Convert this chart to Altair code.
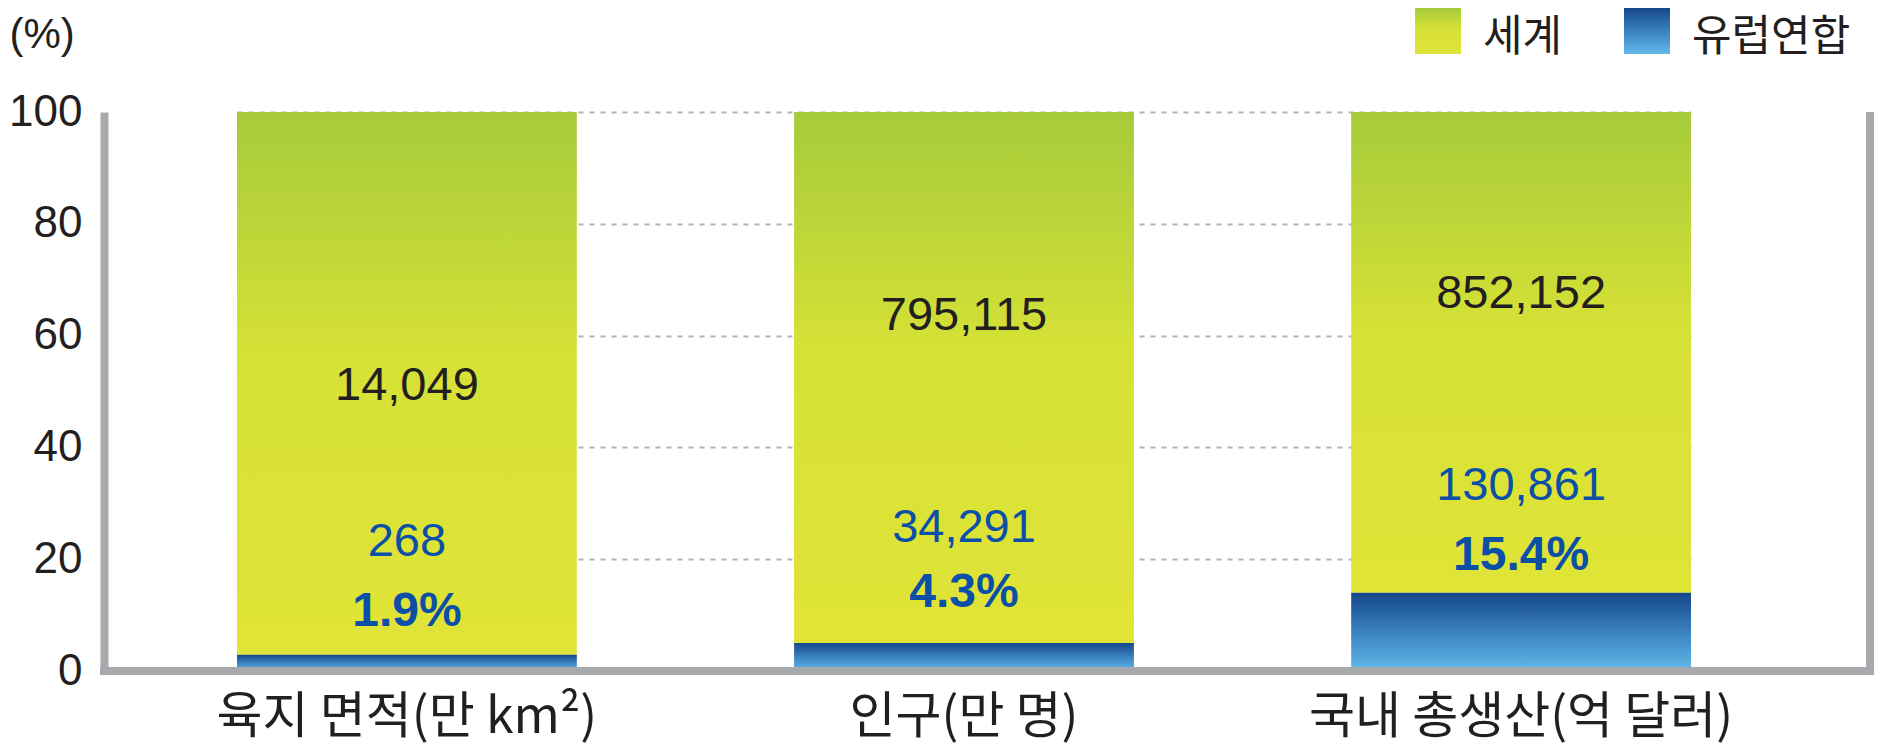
import altair as alt
import pandas as pd

# ---- data ----
categories = ["육지 면적(만 km²)", "인구(만 명)", "국내 총생산(억 달러)"]
world_total = [100, 100, 100]
eu_bar_top = [2.9, 5.0, 14.0]          # drawn height of the EU segment (%)
world_value_labels = ["14,049", "795,115", "852,152"]
eu_value_labels = ["268", "34,291", "130,861"]
eu_share_labels = ["1.9%", "4.3%", "15.4%"]
y_ticks = [0, 20, 40, 60, 80, 100]
legend_labels = ["세계", "유럽연합"]

# vertical anchor of each in-bar label, in axis units (%)
world_label_at = [51.0, 63.5, 67.4]
eu_label_at = [23.1, 25.6, 33.1]
share_label_at = [10.6, 14.0, 20.6]

# ---- styles ----
DARK = "#231f20"
BLUE_TXT = "#0b4fa6"
GRAY = "#a7a9ac"
NUM_FONT = "Liberation Sans"
KR_FONT = "Noto Sans CJK KR"
W, H = 1766, 559

green = alt.Gradient(
    gradient="linear", x1=0, x2=0, y1=0, y2=1,
    stops=[alt.GradientStop(color="#a6cb3a", offset=0),
           alt.GradientStop(color="#d6e136", offset=0.45),
           alt.GradientStop(color="#e0e437", offset=1)])
blue = alt.Gradient(
    gradient="linear", x1=0, x2=0, y1=0, y2=1,
    stops=[alt.GradientStop(color="#154789", offset=0),
           alt.GradientStop(color="#3a82c0", offset=0.5),
           alt.GradientStop(color="#63b9ea", offset=1)])

df = pd.DataFrame({
    "cat": categories,
    "total": world_total,
    "eu": eu_bar_top,
    "wlab": world_value_labels,
    "elab": eu_value_labels,
    "slab": eu_share_labels,
    "wy": world_label_at,
    "ey": eu_label_at,
    "sy": share_label_at,
})

xscale = alt.Scale(range=[133, 1587], paddingInner=0.39, paddingOuter=0)
yscale = alt.Scale(domain=[0, 100], nice=False)

x_axis = alt.Axis(title=None, labelAngle=0, labelFont=KR_FONT,
                  labelFontSize=50, labelColor=DARK, labelPadding=61,
                  labelBaseline="alphabetic", labelLimit=1000,
                  ticks=False, tickSize=0, domain=False)
y_axis = alt.Axis(values=y_ticks, grid=True, gridColor="#b3b3b3",
                  gridDash=[5, 6], gridWidth=2, domain=True,
                  domainColor=GRAY, domainWidth=8, ticks=False,
                  tickSize=0, labelFont=NUM_FONT, labelFontSize=44,
                  labelColor=DARK, labelPadding=22,
                  title="(%)", titleAngle=0, titleAlign="left",
                  titleBaseline="middle", titleX=-95, titleY=-78,
                  titleFont=NUM_FONT, titleFontSize=42,
                  titleFontWeight="normal", titleColor=DARK)

X = alt.X("cat:N", sort=categories, scale=xscale, axis=x_axis)


def Y(field):
    return alt.Y(field, scale=yscale, axis=y_axis)


base = alt.Chart(df)

world_bars = base.mark_bar(color=green).encode(x=X, y=Y("total:Q"), y2="eu:Q")
eu_bars = base.mark_bar(color=blue).encode(x=X, y=Y("eu:Q"))

world_text = base.mark_text(font=NUM_FONT, fontSize=47, color=DARK,
                            baseline="middle").encode(
    x=X, y=Y("wy:Q"), text="wlab:N")
eu_text = base.mark_text(font=NUM_FONT, fontSize=47, color=BLUE_TXT,
                         baseline="middle").encode(
    x=X, y=Y("ey:Q"), text="elab:N")
share_text = base.mark_text(font=NUM_FONT, fontSize=48, fontWeight="bold",
                            color=BLUE_TXT, baseline="middle").encode(
    x=X, y=Y("sy:Q"), text="slab:N")

one = pd.DataFrame({"k": [0]})
right_border = alt.Chart(one).mark_rule(color=GRAY, strokeWidth=8).encode(
    x=alt.value(W), y=alt.value(0), y2=alt.value(H))
bottom_border = alt.Chart(one).mark_rule(color=GRAY, strokeWidth=8).encode(
    x=alt.value(-4), x2=alt.value(W + 4), y=alt.value(H))

leg_df1 = pd.DataFrame({"t": [legend_labels[0]]})
leg_df2 = pd.DataFrame({"t": [legend_labels[1]]})
leg_sq1 = alt.Chart(leg_df1).mark_rect(color=green).encode(
    x=alt.value(1311), x2=alt.value(1357), y=alt.value(-104), y2=alt.value(-58))
leg_tx1 = alt.Chart(leg_df1).mark_text(font=KR_FONT, fontSize=43, color=DARK,
                                       align="left", baseline="middle").encode(
    x=alt.value(1379), y=alt.value(-74), text="t:N")
leg_sq2 = alt.Chart(leg_df2).mark_rect(color=blue).encode(
    x=alt.value(1520), x2=alt.value(1566), y=alt.value(-104), y2=alt.value(-58))
leg_tx2 = alt.Chart(leg_df2).mark_text(font=KR_FONT, fontSize=43, color=DARK,
                                       align="left", baseline="middle").encode(
    x=alt.value(1588), y=alt.value(-74), text="t:N")

chart = alt.layer(
    world_bars, eu_bars, world_text, eu_text, share_text, right_border,
    bottom_border, leg_sq1, leg_tx1, leg_sq2, leg_tx2
).properties(
    width=W, height=H,
    autosize=alt.AutoSizeParams(type="none"),
    padding={"left": 96, "top": 104, "right": 4, "bottom": 78},
    background="white",
).configure_view(stroke=None)

chart.save("out.html", embed_options={"renderer": "svg", "actions": False})
